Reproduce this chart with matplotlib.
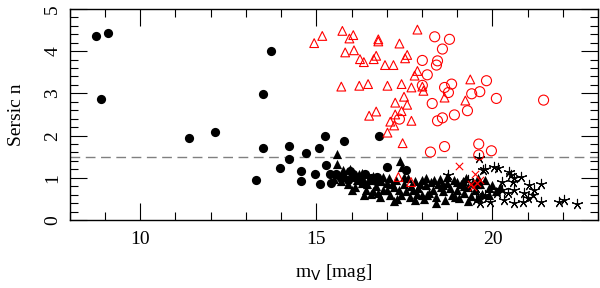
import matplotlib
matplotlib.use("Agg")
import matplotlib.pyplot as plt
from matplotlib.ticker import MultipleLocator

plt.rcParams['font.family'] = ['Liberation Serif', 'DejaVu Serif']
plt.rcParams['mathtext.fontset'] = 'custom'
plt.rcParams['mathtext.rm'] = 'DejaVu Sans'

# Black filled circles
circ_mag = [8.74, 9.10, 8.90, 11.40, 12.14, 13.72, 13.49, 13.50, 14.22, 14.70, 15.08, 15.25,
            15.79, 16.78, 14.22, 13.96, 13.28, 14.57, 14.57, 14.96, 15.28, 15.38, 15.55, 15.43,
            15.95, 16.05, 16.38, 16.55, 16.73, 17.01, 17.55, 16.20, 15.70, 15.90, 16.70, 15.10,
            16.30]
circ_n = [4.36, 4.43, 2.87, 1.94, 2.09, 4.00, 2.99, 1.71, 1.75, 1.59, 1.70, 1.99,
          1.88, 1.99, 1.45, 1.23, 0.95, 1.16, 0.93, 1.09, 1.30, 1.10, 1.09, 0.88,
          1.16, 1.10, 1.10, 1.00, 1.02, 1.26, 1.18, 0.98, 1.00, 0.95, 0.93, 0.85,
          0.90]

# Black filled triangles
tri_mag = [15.60, 15.60, 15.50, 15.70, 15.80, 15.90, 16.00, 16.10, 16.20, 16.30, 16.40, 16.50,
           16.55, 16.60, 16.70, 16.80, 16.85, 16.90, 17.00, 17.05, 17.10, 17.20, 17.25, 17.30,
           17.38, 17.44, 17.50, 17.55, 17.60, 17.65, 17.70, 17.80, 17.85, 17.90, 18.00, 18.05,
           18.10, 18.20, 18.25, 18.30, 18.40, 18.45, 18.50, 18.60, 18.65, 18.70, 18.80, 18.85,
           18.90, 19.00, 19.05, 19.10, 19.20, 19.25, 19.30, 19.40, 19.45, 19.50, 19.60, 19.66,
           19.70, 19.80, 19.90, 20.00, 20.10, 20.20, 16.00, 16.30, 16.60, 16.90, 17.20, 17.50,
           17.80, 18.10, 18.40, 18.70, 19.00, 19.30, 19.60, 19.90, 17.00, 17.40, 18.00, 18.60,
           19.20, 15.75, 16.15, 16.45, 15.95, 17.35, 18.35, 18.95, 19.55, 16.75, 17.15, 17.75,
           18.15, 18.55, 19.15, 16.35, 17.95]
tri_n = [1.56, 1.33, 0.98, 0.92, 1.10, 0.85, 1.02, 0.78, 1.08, 0.88, 0.70, 0.95,
         0.62, 1.05, 0.80, 0.55, 0.92, 0.70, 0.88, 1.00, 0.60, 0.78, 0.95, 0.50,
         1.41, 1.26, 0.85, 0.68, 1.00, 0.55, 0.80, 0.92, 0.62, 0.75, 0.95, 0.50,
         0.82, 0.65, 0.90, 0.72, 0.55, 0.85, 0.98, 0.68, 0.48, 0.88, 0.75, 0.60,
         0.95, 0.70, 0.52, 0.85, 0.65, 1.00, 0.78, 0.58, 0.90, 0.72, 1.00, 0.85,
         0.62, 0.95, 0.75, 0.82, 0.68, 0.78, 0.72, 1.12, 0.68, 1.02, 0.45, 1.02,
         0.48, 1.00, 0.40, 1.02, 0.90, 0.45, 0.55, 0.60, 0.72, 0.60, 0.60, 0.82,
         0.80, 1.18, 0.95, 0.85, 1.20, 0.70, 0.95, 0.55, 0.85, 0.65, 0.85, 0.70,
         0.60, 0.78, 0.92, 0.60, 0.85]

# Red open triangles
rtri_mag = [14.94, 15.17, 15.74, 15.94, 16.05, 16.76, 16.76, 17.36, 17.87, 15.82, 16.07, 16.24,
            16.35, 16.63, 16.70, 16.95, 17.19, 17.52, 17.58, 17.87, 17.79, 15.71, 16.22, 16.47,
            17.02, 17.42, 17.70, 18.01, 18.04, 18.64, 19.37, 19.23, 17.49, 17.24, 17.58, 17.42,
            16.70, 16.50, 17.24, 17.10, 17.21, 17.70, 17.02, 17.45, 17.33, 17.69]
rtri_n = [4.19, 4.36, 4.48, 4.30, 4.38, 4.28, 4.23, 4.18, 4.51, 3.97, 4.02, 3.81,
          3.74, 3.81, 3.89, 3.67, 3.67, 3.83, 3.91, 3.53, 3.42, 3.16, 3.18, 3.22,
          3.18, 3.22, 3.14, 3.16, 3.06, 2.90, 3.33, 2.83, 2.92, 2.78, 2.73, 2.58,
          2.57, 2.47, 2.50, 2.33, 2.24, 2.35, 2.07, 1.82, 1.02, 0.90]

# Red open circles
rcirc_mag = [18.36, 18.78, 18.58, 18.01, 18.44, 18.41, 18.15, 18.64, 18.84, 18.75, 18.01, 19.41,
             19.64, 19.83, 20.11, 21.45, 18.29, 19.29, 18.92, 18.58, 18.44, 17.36, 18.64, 19.61,
             18.24, 19.97, 19.61]
rcirc_n = [4.34, 4.28, 4.05, 3.78, 3.77, 3.67, 3.44, 3.14, 3.22, 3.02, 3.19, 2.99,
           3.04, 3.30, 2.88, 2.84, 2.76, 2.59, 2.49, 2.42, 2.35, 2.39, 1.74, 1.80,
           1.61, 1.64, 1.54]

# Red crosses
rx_mag = [19.06, 19.49, 19.46, 19.57, 19.65, 19.40]
rx_n = [1.29, 1.10, 0.78, 0.88, 0.95, 0.85]

# Black stars
star_mag = [19.61, 19.78, 20.03, 20.17, 20.46, 20.52, 20.60, 20.80, 20.57, 20.28, 21.03, 21.37,
            21.17, 21.14, 21.00, 21.37, 20.86, 20.60, 20.32, 19.94, 19.52, 21.88, 22.02, 22.39,
            20.28, 20.60, 20.43, 20.14, 19.80, 19.66, 19.74, 18.73, 19.52, 19.30, 20.90]
star_n = [1.47, 1.21, 1.26, 1.24, 1.14, 1.07, 0.99, 1.02, 0.90, 0.90, 0.83, 0.85,
          0.71, 0.59, 0.52, 0.43, 0.43, 0.40, 0.47, 0.43, 0.47, 0.43, 0.47, 0.38,
          0.71, 0.71, 0.64, 0.64, 0.59, 0.40, 1.18, 1.07, 0.75, 0.95, 0.65]

dash_level = 1.5

fig = plt.figure(figsize=(6.0, 2.88), dpi=100)
ax = fig.add_axes([0.116, 0.236, 0.881, 0.733])

ax.axhline(dash_level, color='#808080', lw=1.0, dashes=(7, 4), zorder=1)

ax.scatter(circ_mag, circ_n, s=44, c='black', marker='o', linewidths=0, zorder=3)
ax.scatter(tri_mag, tri_n, s=44, c='black', marker='^', linewidths=0, zorder=3)
ax.scatter(star_mag, star_n, s=55, c='black', marker=(5, 2, 0), linewidths=0.8, zorder=3)
ax.scatter(rtri_mag, rtri_n, s=40, facecolors='none', edgecolors='red', marker='^',
           linewidths=0.8, zorder=4)
ax.scatter(rcirc_mag, rcirc_n, s=52, facecolors='none', edgecolors='red', marker='o',
           linewidths=0.8, zorder=4)
ax.scatter(rx_mag, rx_n, s=28, c='red', marker='x', linewidths=0.8, zorder=4)

ax.set_xlim(8, 23)
ax.set_ylim(0, 5)
ax.xaxis.set_major_locator(MultipleLocator(5))
ax.xaxis.set_minor_locator(MultipleLocator(1))
ax.yaxis.set_major_locator(MultipleLocator(1))
ax.yaxis.set_minor_locator(MultipleLocator(0.2))
ax.tick_params(which='both', direction='in', top=True, right=True, labelsize=14)
ax.tick_params(which='major', length=12, width=0.8)
ax.tick_params(which='minor', length=6, width=0.8)
ax.tick_params(axis='x', which='major', pad=8)
ax.tick_params(axis='y', which='major', pad=6)
for lab in ax.get_yticklabels():
    lab.set_rotation(90)
    lab.set_va('center')
for s in ax.spines.values():
    s.set_linewidth(1.0)

ax.set_xlabel(r'm$_{\rm V}$ [mag]', fontsize=14, labelpad=10)
ax.set_ylabel('Sersic n', fontsize=14, labelpad=14)

fig.savefig('out.png', dpi=100)
